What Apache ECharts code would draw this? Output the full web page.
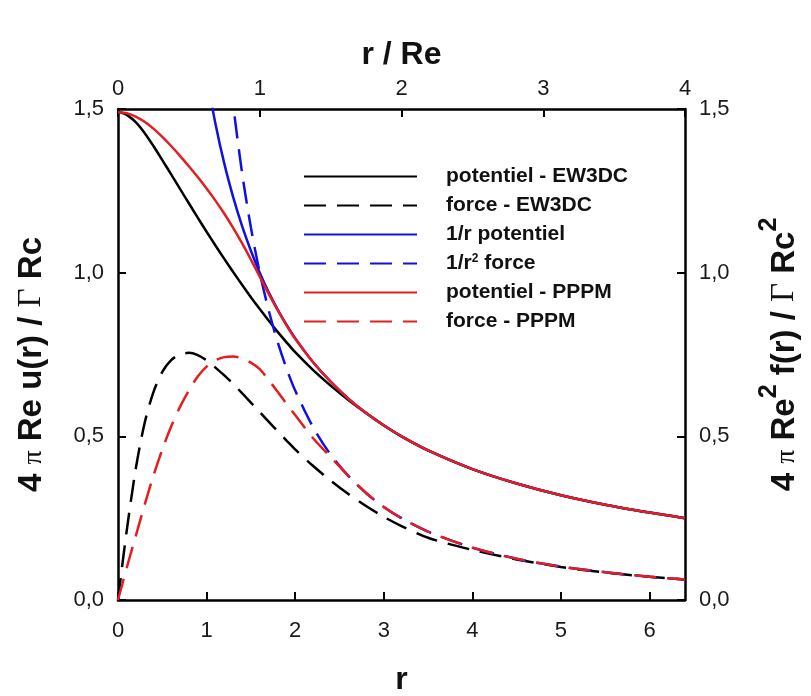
<!DOCTYPE html>
<html>
<head>
<meta charset="utf-8">
<script src="https://cdn.jsdelivr.net/npm/echarts@6/dist/echarts.min.js"></script>
<style>html,body{margin:0;padding:0;background:#fff}#c{width:811px;height:696px}</style>
</head>
<body>
<div id="c"></div>
<script>
// r values (bottom axis)
const r = [0, 0.05, 0.1, 0.2, 0.3, 0.4, 0.5, 0.6, 0.7, 0.8, 0.9, 1.0, 1.1, 1.2, 1.3, 1.4, 1.5, 1.6, 1.7, 1.8, 1.9, 2.0, 2.2, 2.4, 2.6, 2.8, 3.0, 3.2, 3.5, 4.0, 4.5, 5.0, 5.5, 6.0, 6.4];
// series values
const potEW3DC = [1.49, 1.488, 1.482, 1.46, 1.427, 1.387, 1.344, 1.30, 1.256, 1.212, 1.168, 1.125, 1.083, 1.042, 1.002, 0.963, 0.925, 0.889, 0.854, 0.82, 0.788, 0.757, 0.703, 0.655, 0.611, 0.571, 0.534, 0.50, 0.457, 0.40, 0.356, 0.32, 0.291, 0.267, 0.25];
const forceEW3DC = [0, 0.11, 0.215, 0.40, 0.54, 0.635, 0.697, 0.733, 0.75, 0.755, 0.748, 0.732, 0.71, 0.686, 0.66, 0.632, 0.603, 0.574, 0.545, 0.516, 0.488, 0.46, 0.41, 0.365, 0.324, 0.287, 0.254, 0.226, 0.19, 0.153, 0.124, 0.101, 0.084, 0.071, 0.0625];
const potCoul = [null, null, null, null, null, null, null, null, null, null, null, 1.6, 1.455, 1.333, 1.231, 1.143, 1.067, 1.0, 0.941, 0.889, 0.842, 0.80, 0.727, 0.667, 0.615, 0.571, 0.533, 0.50, 0.457, 0.40, 0.356, 0.32, 0.291, 0.267, 0.25];
const forceCoul = [null, null, null, null, null, null, null, null, null, null, null, null, null, 1.778, 1.515, 1.306, 1.138, 1.0, 0.886, 0.790, 0.709, 0.64, 0.529, 0.444, 0.379, 0.327, 0.284, 0.25, 0.209, 0.16, 0.126, 0.102, 0.085, 0.071, 0.0625];
const potPPPM = [1.49, 1.489, 1.487, 1.477, 1.461, 1.44, 1.415, 1.387, 1.357, 1.325, 1.292, 1.257, 1.22, 1.18, 1.137, 1.09, 1.04, 0.988, 0.936, 0.886, 0.84, 0.798, 0.727, 0.667, 0.615, 0.571, 0.533, 0.50, 0.457, 0.40, 0.356, 0.32, 0.291, 0.267, 0.25];
const forcePPPM = [0, 0.05, 0.10, 0.195, 0.29, 0.38, 0.46, 0.53, 0.59, 0.64, 0.683, 0.713, 0.732, 0.742, 0.744, 0.738, 0.725, 0.705, 0.672, 0.637, 0.60, 0.565, 0.495, 0.437, 0.379, 0.327, 0.284, 0.25, 0.209, 0.16, 0.126, 0.102, 0.085, 0.071, 0.0625];
// tick labels
const yTicks = ['0,0', '0,5', '1,0', '1,5'];
const names = ['potentiel - EW3DC', 'force - EW3DC', '1/r potentiel', '1/r\u00b2 force', 'potentiel - PPPM', 'force - PPPM'];

const BLUE = '#1010e0', RED = '#e41e1e', BLACK = '#000000';
const DASH = [22, 11];
function pairs(v) { return r.map((x, i) => [x, v[i]]); }
function mk(name, vals, color, dashed) {
  return {
    name: name, type: 'line', data: pairs(vals), showSymbol: false, symbol: 'none',
    smooth: 0.3, connectNulls: false, clip: true, xAxisIndex: 0, yAxisIndex: 0,
    lineStyle: { color: color, width: 2.5, type: dashed ? DASH : 'solid' },
    itemStyle: { color: color }
  };
}
const FONT = 'Liberation Sans, Arial, sans-serif';
function tickLbl(extra) { return Object.assign({ color: '#1a1a1a', fontSize: 22, fontFamily: FONT }, extra); }
function axisLine() { return { show: true, onZero: false, lineStyle: { color: '#000', width: 2.5 } }; }
function axisTick() { return { show: true, inside: true, length: 8, lineStyle: { color: '#000', width: 2 } }; }
const yFmt = v => yTicks[Math.round(v / 0.5)];
function titleRich() {
  return {
    b: { fontSize: 33, fontWeight: 'bold', fontFamily: FONT, color: '#111', lineHeight: 44, verticalAlign: 'bottom' },
    g: { fontSize: 33, fontFamily: 'Liberation Serif, Times New Roman, serif', color: '#111', lineHeight: 44, verticalAlign: 'bottom' },
    p: { fontSize: 28, fontFamily: 'Liberation Serif, Times New Roman, serif', color: '#111', lineHeight: 44, verticalAlign: 'bottom' },
    sup: { fontSize: 25, fontWeight: 'bold', fontFamily: FONT, color: '#111', verticalAlign: 'top', lineHeight: 44 }
  };
}

const chart = echarts.init(document.getElementById('c'), null, { renderer: 'canvas' });
chart.setOption({
  animation: false,
  backgroundColor: '#fff',
  grid: { left: 118, top: 109, right: 126, bottom: 96, containLabel: false, outerBoundsMode: 'none' },
  legend: {
    orient: 'vertical', left: 303, top: 166, padding: 0,
    itemWidth: 113, itemHeight: 14, itemGap: 8,
    data: names, selectedMode: false,
    itemStyle: { opacity: 0 },
    formatter: function (n) {
      if (n === names[3]) return '{t|1/r}{s|2}{t| force}';
      return '{t|' + n + '}';
    },
    textStyle: {
      padding: [0, 0, 0, 24],
      rich: {
        t: { fontSize: 21, fontWeight: 'bold', fontFamily: FONT, color: '#111', lineHeight: 21 },
        s: { fontSize: 12, fontWeight: 'bold', fontFamily: FONT, color: '#111', verticalAlign: 'top', lineHeight: 21 }
      }
    }
  },
  xAxis: [
    {
      type: 'value', position: 'bottom', min: 0, max: 6.4, interval: 1,
      axisLine: axisLine(), axisTick: axisTick(), splitLine: { show: false },
      axisLabel: tickLbl({ margin: 20, showMaxLabel: false }),
      name: 'r', nameLocation: 'middle', nameGap: 64,
      nameTextStyle: { fontSize: 32, fontWeight: 'bold', fontFamily: FONT, color: '#111' }
    },
    {
      type: 'value', position: 'top', min: 0, max: 4, interval: 1,
      axisLine: axisLine(), axisTick: axisTick(), splitLine: { show: false },
      axisLabel: tickLbl({ margin: 9 }),
      name: 'r / Re', nameLocation: 'middle', nameGap: 38,
      nameTextStyle: { fontSize: 32, fontWeight: 'bold', fontFamily: FONT, color: '#111' }
    }
  ],
  yAxis: [
    {
      type: 'value', position: 'left', min: 0, max: 1.5, interval: 0.5,
      axisLine: axisLine(), axisTick: axisTick(), splitLine: { show: false },
      axisLabel: tickLbl({ margin: 14, formatter: yFmt }),
      name: '{b|4 }{p|\u03c0}{b| Re u(r) / }{g|\u0393}{b| Rc}',
      nameLocation: 'middle', nameRotate: 90, nameGap: 70,
      nameTextStyle: { rich: titleRich(), padding: [0, 20, 0, 0] }
    },
    {
      type: 'value', position: 'right', min: 0, max: 1.5, interval: 0.5,
      axisLine: axisLine(), axisTick: axisTick(), splitLine: { show: false },
      axisLabel: tickLbl({ margin: 14, formatter: yFmt }),
      name: '{b|4 }{p|\u03c0}{b| Re}{sup|2}{b| f(r) / }{g|\u0393}{b| Rc}{sup|2}',
      nameLocation: 'middle', nameRotate: 90, nameGap: 72,
      nameTextStyle: { rich: titleRich() }
    }
  ],
  series: [
    mk(names[0], potEW3DC, BLACK, false),
    mk(names[1], forceEW3DC, BLACK, true),
    mk(names[2], potCoul, BLUE, false),
    mk(names[3], forceCoul, BLUE, true),
    mk(names[4], potPPPM, RED, false),
    mk(names[5], forcePPPM, RED, true)
  ]
});
</script>
</body>
</html>
